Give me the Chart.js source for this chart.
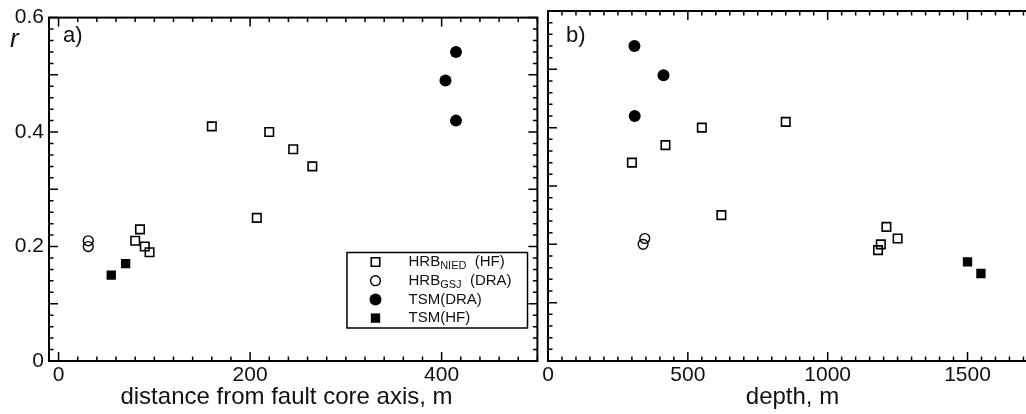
<!DOCTYPE html>
<html>
<head>
<meta charset="utf-8">
<script src="https://cdn.jsdelivr.net/npm/chart.js@4.4.1/dist/chart.umd.min.js"></script>
<style>
  html, body { margin: 0; padding: 0; background: #fff; overflow: hidden; }
  #wrap { position: relative; width: 1026px; height: 414px; overflow: hidden; }
  canvas { position: absolute; top: 0; }
  #chartA { left: 0; }
  #chartB { left: 540px; }
</style>
</head>
<body>
<div id="wrap">
  <canvas id="chartA" width="545" height="414"></canvas>
  <canvas id="chartB" width="540" height="414"></canvas>
</div>
<script>
'use strict';

// correlation coefficient r, per borehole / method
const rNied = [0.41, 0.40, 0.37, 0.34, 0.25, 0.23, 0.21, 0.20, 0.19];
const distNied = [160, 220, 245, 265, 207, 85, 80, 90, 95];
const depthNied = [850, 550, 420, 300, 620, 1210, 1250, 1190, 1180];

const rGsj = [0.21, 0.20];
const distGsj = [31, 31];
const depthGsj = [346, 340];

const rTsmDra = [0.54, 0.49, 0.42];
const distTsmDra = [415, 404, 415];
const depthTsmDra = [309, 413, 310];

const rTsmHf = [0.17, 0.15];
const distTsmHf = [70, 55];
const depthTsmHf = [1500, 1548];

// legend text: main part, subscript, trailing part
const legendMain = ['HRB', 'HRB', 'TSM(DRA)', 'TSM(HF)'];
const legendSub = ['NIED', 'GSJ', '', ''];
const legendTail = ['  (HF)', '  (DRA)', '', ''];

// tick label steps
const distLabelStep = 200;
const depthLabelStep = 500;
const rLabelStep = 0.2;

const FONT = "'Liberation Sans', Arial, Helvetica, sans-serif";
const INK = '#111';

// marker look for each series (same order as legend)
const markers = [
  { pointStyle: 'rect', radius: 6.0, fill: 'rgba(0,0,0,0)', border: 1.6 },
  { pointStyle: 'circle', radius: 4.9, fill: 'rgba(0,0,0,0)', border: 1.4 },
  { pointStyle: 'circle', radius: 6.0, fill: '#000', border: 0 },
  { pointStyle: 'rect', radius: 6.6, fill: '#000', border: 0 }
];

function isMultiple(v, step) {
  const q = v / step;
  return Math.abs(q - Math.round(q)) < 1e-6;
}

// every multiple of step inside [min, max]
function stepTicks(min, max, step) {
  const out = [];
  for (let k = Math.ceil(min / step - 1e-9); k * step <= max + 1e-9; k++) {
    out.push({ value: Math.round(k * step * 1e6) / 1e6 });
  }
  return out;
}

function buildDatasets(xLists) {
  const rLists = [rNied, rGsj, rTsmDra, rTsmHf];
  return xLists.map((xs, i) => ({
    label: legendMain[i] + legendSub[i] + legendTail[i],
    data: xs.map((x, j) => ({ x: x, y: rLists[i][j] })),
    pointStyle: markers[i].pointStyle,
    pointRadius: markers[i].radius,
    pointHoverRadius: markers[i].radius,
    pointBackgroundColor: markers[i].fill,
    pointBorderColor: '#000',
    pointBorderWidth: markers[i].border,
    showLine: false
  }));
}

function drawMarker(ctx, m, x, y) {
  ctx.beginPath();
  if (m.pointStyle === 'rect') {
    const s = m.radius * Math.SQRT1_2;
    ctx.rect(x - s, y - s, 2 * s, 2 * s);
  } else {
    ctx.arc(x, y, m.radius, 0, Math.PI * 2);
  }
  ctx.fillStyle = m.fill;
  ctx.fill();
  if (m.border > 0) {
    ctx.lineWidth = m.border;
    ctx.strokeStyle = '#000';
    ctx.stroke();
  }
}

// box frame with inward ticks on all four sides, axis title, panel tag, legend
const panelFrame = {
  id: 'panelFrame',
  afterDatasetsDraw(chart, args, o) {
    const { ctx, chartArea: a } = chart;
    const xs = chart.scales.x, ys = chart.scales.y;
    ctx.save();
    ctx.strokeStyle = '#000';
    ctx.lineWidth = 1.5;
    ctx.beginPath();
    xs.ticks.forEach(t => {
      const p = xs.getPixelForValue(t.value);
      const len = isMultiple(t.value, o.xMajor) ? 9 : 4.5;
      ctx.moveTo(p, a.bottom); ctx.lineTo(p, a.bottom - len);
      ctx.moveTo(p, a.top); ctx.lineTo(p, a.top + len);
    });
    ys.ticks.forEach(t => {
      const p = ys.getPixelForValue(t.value);
      const len = isMultiple(t.value, o.yMajor) ? 9 : 4.5;
      ctx.moveTo(a.left, p); ctx.lineTo(a.left + len, p);
      ctx.moveTo(a.right, p); ctx.lineTo(a.right - len, p);
    });
    ctx.stroke();
    ctx.lineWidth = 2;
    ctx.strokeRect(a.left, a.top, a.right - a.left, a.bottom - a.top);

    ctx.fillStyle = INK;
    ctx.textBaseline = 'alphabetic';

    // x axis title
    ctx.textAlign = 'center';
    ctx.font = '24px ' + FONT;
    ctx.fillText(o.xTitle, a.left + o.titleDx, 404);

    ctx.textAlign = 'left';
    ctx.font = '22px ' + FONT;
    ctx.fillText(o.tag, a.left + o.tagDx, 42);

    if (o.yName) {
      ctx.font = 'italic 26px ' + FONT;
      ctx.fillText(o.yName, 10, 47);
    }

    if (o.legend) {
      const L = o.legend;
      ctx.lineWidth = 1.5;
      ctx.strokeStyle = '#000';
      ctx.strokeRect(L.x, L.y, L.w, L.h);
      legendMain.forEach((txt, i) => {
        const cy = L.y + 9.5 + i * 18.7;
        drawMarker(ctx, markers[i], L.x + 28.5, cy);
        ctx.fillStyle = INK;
        ctx.textBaseline = 'middle';
        ctx.font = '15px ' + FONT;
        let tx = L.x + 61.5;
        ctx.fillText(txt, tx, cy);
        tx += ctx.measureText(txt).width;
        if (legendSub[i]) {
          ctx.font = '11px ' + FONT;
          ctx.fillText(legendSub[i], tx, cy + 4);
          tx += ctx.measureText(legendSub[i]).width;
          ctx.font = '15px ' + FONT;
        }
        if (legendTail[i]) ctx.fillText(legendTail[i], tx, cy);
      });
    }
    ctx.restore();
  }
};

function makeChart(id, datasets, cfg) {
  return new Chart(document.getElementById(id), {
    type: 'scatter',
    data: { datasets: datasets },
    plugins: [panelFrame],
    options: {
      responsive: false,
      animation: false,
      devicePixelRatio: 1,
      layout: { padding: { left: 0, right: cfg.padRight, top: 11, bottom: 0 } },
      plugins: {
        legend: { display: false },
        tooltip: { enabled: false },
        panelFrame: cfg.frame
      },
      scales: {
        x: {
          type: 'linear',
          min: cfg.xMin,
          max: cfg.xMax,
          grid: { display: false, drawTicks: false },
          border: { display: false },
          afterBuildTicks: s => { s.ticks = stepTicks(cfg.xMin, cfg.xMax, cfg.xStep); },
          afterFit: s => { s.height = 53; },
          ticks: {
            autoSkip: false,
            maxRotation: 0,
            padding: 2,
            color: INK,
            font: { family: FONT, size: 21 },
            callback: v => isMultiple(v, cfg.xLabelStep) ? String(v) : ''
          }
        },
        y: {
          type: 'linear',
          min: 0,
          max: 0.6,
          grid: { display: false, drawTicks: false },
          border: { display: false },
          afterBuildTicks: s => { s.ticks = stepTicks(0, 0.6, 0.02); },
          afterFit: s => { s.width = cfg.yWidth; },
          ticks: {
            display: cfg.yLabels,
            autoSkip: false,
            padding: 5,
            color: INK,
            font: { family: FONT, size: 21 },
            callback: v => isMultiple(v, rLabelStep) ? String(Math.round(v * 10) / 10) : ''
          }
        }
      }
    }
  });
}

makeChart('chartA', buildDatasets([distNied, distGsj, distTsmDra, distTsmHf]), {
  xMin: -10, xMax: 500, xStep: 20, xLabelStep: distLabelStep,
  padRight: 6, yWidth: 49, yLabels: true,
  frame: {
    xMajor: distLabelStep, yMajor: 0.1, tag: 'a)', tagDx: 14, yName: 'r',
    xTitle: 'distance from fault core axis, m', titleDx: 237.5,
    legend: { x: 347, y: 252.5, w: 180.5, h: 75.5 }
  }
});

makeChart('chartB', buildDatasets([depthNied, depthGsj, depthTsmDra, depthTsmHf]), {
  xMin: 0, xMax: 1875, xStep: 50, xLabelStep: depthLabelStep,
  padRight: 3, yWidth: 8, yLabels: false,
  frame: {
    xMajor: depthLabelStep, yMajor: 0.1, tag: 'b)', tagDx: 18,
    xTitle: 'depth, m', titleDx: 244.5
  }
});
</script>
</body>
</html>
